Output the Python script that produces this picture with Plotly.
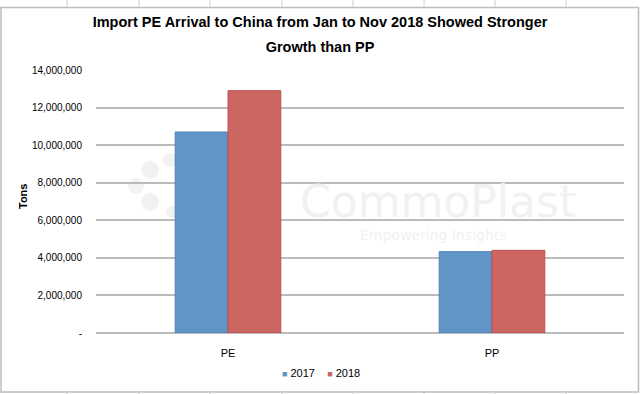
import plotly.graph_objects as go

categories = ["PE", "PP"]
series_names = ["2017", "2018"]
values_2017 = [10700000, 4330000]
values_2018 = [12900000, 4400000]
tick_values = [0, 2000000, 4000000, 6000000, 8000000, 10000000, 12000000, 14000000]
tick_labels = ["-", "2,000,000", "4,000,000", "6,000,000", "8,000,000", "10,000,000", "12,000,000", "14,000,000"]
colors = ["#6195C7", "#CB6661"]
edge_colors = ["#4F81BD", "#C0504D"]

W, H = 640, 394
L, R, T, B = 96, 16, 70, 61
pw, ph = W - L - R, H - T - B

def px(x):
    return (x - L) / pw

def py(y):
    return (H - B - y) / ph

FONT = "Liberation Sans, Arial, sans-serif"

fig = go.Figure()
for name, vals, c, ec in zip(series_names, [values_2017, values_2018], colors, edge_colors):
    fig.add_trace(go.Bar(x=categories, y=vals, name=name, showlegend=False,
                         marker=dict(color=c, line=dict(color=ec, width=1))))

shapes = []
# chart border
shapes.append(dict(type="rect", xref="paper", yref="paper",
                   x0=px(1), x1=px(638.5), y0=py(392), y1=py(7.5),
                   line=dict(color="#BDBDBD", width=1.5), layer="below"))
# spreadsheet cell separators outside the chart frame
for cx in [67, 139, 210, 282, 353, 424, 495, 566]:
    shapes.append(dict(type="line", xref="paper", yref="paper",
                       x0=px(cx), x1=px(cx), y0=py(7), y1=py(0),
                       line=dict(color="#D0D0D0", width=1)))
    shapes.append(dict(type="line", xref="paper", yref="paper",
                       x0=px(cx), x1=px(cx), y0=py(394), y1=py(393),
                       line=dict(color="#D0D0D0", width=1)))
# faint watermark logo dots
for cx, cy, r in [(150, 170, 9), (136, 186, 8), (150, 202, 9), (170, 160, 7), (172, 212, 6)]:
    shapes.append(dict(type="circle", xref="paper", yref="paper",
                       x0=px(cx - r), x1=px(cx + r), y0=py(cy + r), y1=py(cy - r),
                       fillcolor="#F1F3F2", line=dict(width=0), layer="below"))

legend_text = ("<span style='color:%s;font-size:9px'>■</span> %s    "
               "<span style='color:%s;font-size:9px'>■</span> %s"
               % (colors[0], series_names[0], colors[1], series_names[1]))

annotations = [
    dict(text="CommoPlast", x=px(438), y=py(201), xref="paper", yref="paper",
         xanchor="center", yanchor="middle",
         showarrow=False, font=dict(family="DejaVu Sans, sans-serif", size=44, color="#F0F2F1")),
    dict(text="Empowering Insights", x=px(433), y=py(235), xref="paper", yref="paper",
         xanchor="center", yanchor="middle",
         showarrow=False, font=dict(family="DejaVu Sans, sans-serif", size=14, color="#F0F2F1")),
    dict(text="<b>Tons</b>", x=px(23), y=py(197), xref="paper", yref="paper", textangle=-90,
         xanchor="center", yanchor="middle",
         showarrow=False, font=dict(family=FONT, size=11, color="#000000")),
    dict(text=legend_text, x=px(321), y=py(373), xref="paper", yref="paper",
         xanchor="center", yanchor="middle",
         showarrow=False, font=dict(family=FONT, size=11, color="#000000")),
]

title_text = ("<b><span style='font-size:14.5px'>Import PE Arrival to China from Jan to Nov 2018 "
              "Showed Stronger</span><br><span style='font-size:14.5px'>Growth than PP</span></b>")

fig.update_layout(
    width=W, height=H,
    margin=dict(l=L, r=R, t=T, b=B),
    paper_bgcolor="white", plot_bgcolor="white",
    title=dict(text=title_text, x=0.5, xanchor="center", y=1 - 27 / H, yanchor="middle",
               font=dict(family=FONT, size=19, color="#000000")),
    barmode="group", bargap=0.6, bargroupgap=0,
    font=dict(family=FONT, size=11, color="#000000"),
    showlegend=False,
    xaxis=dict(showgrid=False, showline=False, ticks="", tickfont=dict(size=11),
               ticklabelstandoff=12),
    yaxis=dict(range=[0, 14000000], tickvals=tick_values, ticktext=tick_labels,
               showgrid=True, gridcolor="#BBBBBB", gridwidth=1.5, zeroline=True,
               zerolinecolor="#BBBBBB", zerolinewidth=1.5, showline=False, ticks="",
               ticklabelstandoff=13, tickfont=dict(size=10)),
    shapes=shapes, annotations=annotations,
)

fig.write_html("out.html", config={"displayModeBar": False},
               post_script="document.body.style.margin='0';")
